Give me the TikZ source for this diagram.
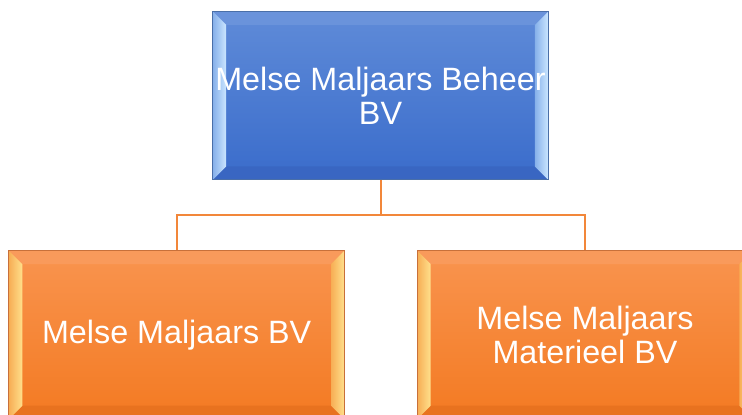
\documentclass[tikz,border=0pt]{standalone}
\usepackage{fontspec}
\setmainfont{Liberation Sans}
\usetikzlibrary{calc}

\definecolor{bluetop}{HTML}{5F8BD8}
\definecolor{bluebot}{HTML}{3A6CCB}
\definecolor{blueupper}{HTML}{6A93DB}
\definecolor{bluelower}{HTML}{3966C2}
\definecolor{blueside}{HTML}{86B0EA}
\definecolor{bluehi}{HTML}{CBE6FF}
\definecolor{blueedge}{HTML}{4A6FA8}
\definecolor{orgtop}{HTML}{F9944F}
\definecolor{orgbot}{HTML}{F37A22}
\definecolor{orgupper}{HTML}{F99A5B}
\definecolor{orglower}{HTML}{E8721F}
\definecolor{orgside}{HTML}{F7AE55}
\definecolor{orghi}{HTML}{FFE08C}
\definecolor{orgedge}{HTML}{C8703A}
\definecolor{linkcol}{HTML}{F2873A}

% bevel: #1 upper, #2 side, #3 highlight, #4 lower
\newcommand{\bevelsides}[4]{%
  \coordinate (onw) at (path picture bounding box.north west);
  \coordinate (ose) at (path picture bounding box.south east);
  \coordinate (inw) at ($(onw)+(13.5pt,-13.5pt)$);
  \coordinate (ise) at ($(ose)+(-13.5pt,13.5pt)$);
  \fill[#1] (onw) -- (ose|-onw) -- (ise|-inw) -- (inw) -- cycle;
  \fill[#4] (onw|-ose) -- (ose) -- (ise) -- (inw|-ise) -- cycle;
  \shade[left color=#2,right color=#3] (onw) -- (inw) -- (inw|-ise) -- (onw|-ose) -- cycle;
  \shade[left color=#2,right color=#3] (ose|-onw) -- (ose) -- (ise) -- (ise|-inw) -- cycle;
}

\tikzset{
  unit/.style={rectangle, minimum width=335.6pt, minimum height=168.5pt,
    inner sep=0pt, line width=1pt, text=white, align=center,
    font=\fontsize{32.3}{33.5}\selectfont},
  holding/.style={unit, draw=blueedge, top color=bluetop, bottom color=bluebot,
    path picture={\bevelsides{blueupper}{blueside}{bluehi}{bluelower}}},
  daughter/.style={unit, draw=orgedge, top color=orgtop, bottom color=orgbot,
    path picture={\bevelsides{orgupper}{orgside}{orghi}{orglower}}},
  link/.style={draw=linkcol, line width=2pt}
}

\begin{document}
\begin{tikzpicture}[x=1pt,y=-1pt]
  \useasboundingbox (0,0) rectangle (742,415);
  \node[holding] (beheer) at (380.5,95.7) {Melse Maljaars Beheer\\BV};
  \node[daughter] (bv) at (176.7,334.9) {Melse Maljaars BV};
  \node[daughter] (materieel) at (585,334.9) {Melse Maljaars\\Materieel BV};
  \coordinate (fork) at (380.5,215);
  \draw[link] (beheer.south) -- (fork) -| (bv.north);
  \draw[link] (fork) -| (materieel.north);
\end{tikzpicture}
\end{document}
